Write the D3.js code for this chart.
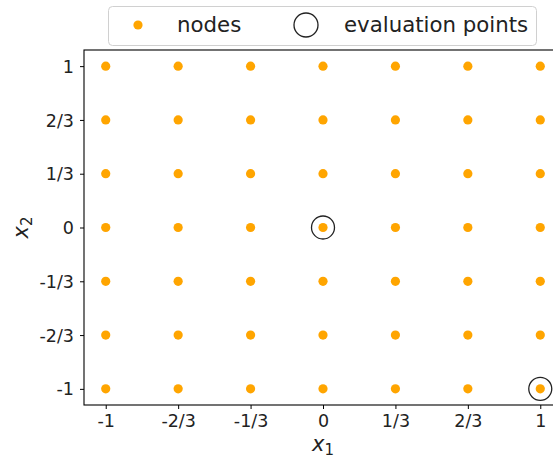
<!DOCTYPE html>
<html>
<head>
<meta charset="utf-8">
<script src="https://cdn.jsdelivr.net/npm/d3@7"></script>
<style>
  html, body { margin: 0; padding: 0; background: #fff; }
  svg { display: block; }
  text { font-family: "DejaVu Sans", sans-serif; fill: #222; }
</style>
</head>
<body>
<svg id="chart" width="553" height="459"></svg>
<script>
// Grid coordinates and their tick labels
const gridValues = [-1, -2/3, -1/3, 0, 1/3, 2/3, 1];
const tickLabels = ["-1", "-2/3", "-1/3", "0", "1/3", "2/3", "1"];
// Evaluation points [x1, x2]
const evalPoints = [[0, 0], [1, -1]];

const svg = d3.select("#chart");
const plot = { left: 84, top: 50, right: 562, bottom: 405 };

const x = d3.scaleLinear().domain([-1.1, 1.1]).range([plot.left, plot.right]);
const y = d3.scaleLinear().domain([-1.1, 1.1]).range([plot.bottom, plot.top]);

// Nodes: full tensor grid
const nodes = [];
gridValues.forEach(a => gridValues.forEach(b => nodes.push([a, b])));

// Axes frame
svg.append("rect")
  .attr("x", plot.left).attr("y", plot.top)
  .attr("width", plot.right - plot.left).attr("height", plot.bottom - plot.top)
  .attr("fill", "none").attr("stroke", "#000").attr("stroke-width", 1.1);

const fmt = (d) => tickLabels[gridValues.indexOf(d)];

const xAxis = svg.append("g")
  .attr("transform", `translate(0,${plot.bottom})`)
  .call(d3.axisBottom(x).tickValues(gridValues).tickFormat(fmt).tickSize(4).tickPadding(6));
const yAxis = svg.append("g")
  .attr("transform", `translate(${plot.left},0)`)
  .call(d3.axisLeft(y).tickValues(gridValues).tickFormat(fmt).tickSize(4).tickPadding(6));

[xAxis, yAxis].forEach(g => {
  g.select(".domain").remove();
  g.selectAll(".tick line").attr("stroke", "#000").attr("stroke-width", 1);
  g.selectAll(".tick text")
    .attr("font-family", "DejaVu Sans, sans-serif")
    .attr("font-size", 17.5).attr("fill", "#222");
});
yAxis.selectAll(".tick text").attr("dy", "0.35em");

// Node markers
svg.append("g").selectAll("circle.node")
  .data(nodes).join("circle")
  .attr("class", "node")
  .attr("cx", d => x(d[0])).attr("cy", d => y(d[1]))
  .attr("r", 4.6).attr("fill", "#ffa500");

// Evaluation point rings
svg.append("g").selectAll("circle.eval")
  .data(evalPoints).join("circle")
  .attr("class", "eval")
  .attr("cx", d => x(d[0])).attr("cy", d => y(d[1]))
  .attr("r", 11.5).attr("fill", "none")
  .attr("stroke", "#222").attr("stroke-width", 1.3);

// Axis labels
const xl = svg.append("text")
  .attr("x", x(0)).attr("y", 451)
  .attr("text-anchor", "middle").attr("font-size", 21);
xl.append("tspan").attr("font-style", "italic").text("x");
xl.append("tspan").attr("font-size", 15).attr("dy", 4).text("1");

const yl = svg.append("text")
  .attr("transform", `translate(28,${y(0)}) rotate(-90)`)
  .attr("text-anchor", "middle").attr("font-size", 21);
yl.append("tspan").attr("font-style", "italic").text("x");
yl.append("tspan").attr("font-size", 15).attr("dy", 4).text("2");

// Legend
const lg = svg.append("g");
lg.append("rect")
  .attr("x", 108.5).attr("y", 6.5).attr("width", 428).attr("height", 39)
  .attr("rx", 4).attr("fill", "#fff").attr("fill-opacity", 0.8)
  .attr("stroke", "#d0d0d0").attr("stroke-width", 1);
lg.append("circle").attr("cx", 138).attr("cy", 25).attr("r", 4.6).attr("fill", "#ffa500");
lg.append("text").attr("x", 177).attr("y", 25).attr("dy", "0.35em")
  .attr("font-size", 21.3).text("nodes");
lg.append("circle").attr("cx", 306).attr("cy", 25).attr("r", 12)
  .attr("fill", "none").attr("stroke", "#222").attr("stroke-width", 1.3);
lg.append("text").attr("x", 344).attr("y", 25).attr("dy", "0.35em")
  .attr("font-size", 21.3).text("evaluation points");
</script>
</body>
</html>
